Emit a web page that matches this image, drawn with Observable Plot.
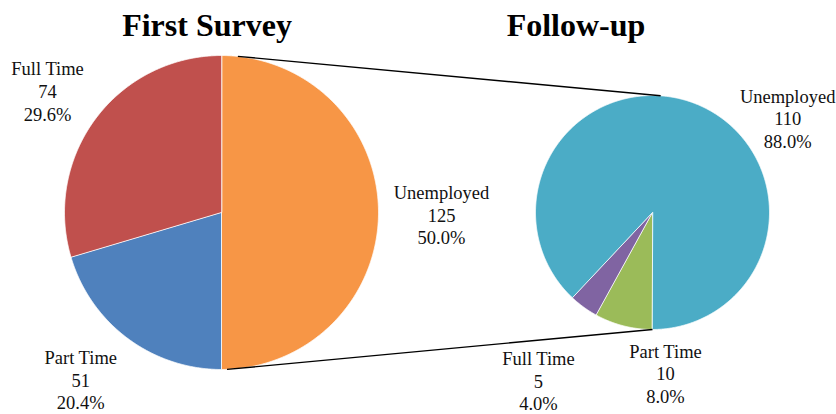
<!DOCTYPE html>
<html><head><meta charset="utf-8">
<script src="https://cdn.jsdelivr.net/npm/d3@7"></script>
<script src="https://cdn.jsdelivr.net/npm/@observablehq/plot@0.6"></script>
<style>body{margin:0;background:#fff}</style>
</head><body><div id="chart"></div>
<script>
// ---- data ----
const categories = ["Full Time", "Part Time", "Unemployed"];
const firstSurvey = [74, 51, 125];
const followUp = [5, 10, 110];
const surveyTitles = ["First Survey", "Follow-up"];
const firstColors = ["#C0504D", "#4F81BD", "#F79646"];
const followColors = ["#8064A2", "#9BBB59", "#4BACC6"];

// ---- layout ----
const W = 836, H = 414;
const FONT = "'Liberation Serif', 'Times New Roman', serif";
const pies = [
  {title: surveyTitles[0], values: firstSurvey, colors: firstColors,
   cx: 221, cy: 212, r: 157, start: 0, order: [2, 1, 0], titleX: 206.5,
   nudge: [[0, 8], [-11, -7], [3, 2]]},
  {title: surveyTitles[1], values: followUp, colors: followColors,
   cx: 652, cy: 212, r: 117, start: Math.PI, order: [1, 0, 2], titleX: 575.5,
   nudge: [[-10, 25], [57, -11], [70, 70]]}
];
const labelOffset = 60;

const pt = (p, a, rr) => [p.cx + rr * Math.sin(a), p.cy - rr * Math.cos(a)];

const slicePts = [];
const labels = [];
const titles = [];
pies.forEach((p, pi) => {
  const total = d3.sum(p.values);
  const ordered = p.order.map(i => ({i, v: p.values[i]}));
  const arcs = d3.pie().sort(null).value(d => d.v)
    .startAngle(p.start).endAngle(p.start + 2 * Math.PI)(ordered);
  arcs.forEach(a => {
    const i = a.data.i;
    const id = pi + "-" + i;
    const col = p.colors[i];
    slicePts.push({id, x: p.cx, y: p.cy, c: col});
    const n = Math.max(2, Math.ceil((a.endAngle - a.startAngle) / 0.005));
    for (let k = 0; k <= n; k++) {
      const ang = a.startAngle + (a.endAngle - a.startAngle) * k / n;
      const [x, y] = pt(p, ang, p.r);
      slicePts.push({id, x, y, c: col});
    }
    const mid = (a.startAngle + a.endAngle) / 2;
    const [lx, ly] = pt(p, mid, p.r + labelOffset);
    labels.push({
      x: lx + p.nudge[i][0], y: ly + p.nudge[i][1],
      text: categories[i] + "\n" + a.data.v + "\n" + (a.data.v / total * 100).toFixed(1) + "%"
    });
  });
  titles.push({x: p.titleX, text: p.title});
});

// connector lines between the pies
const L = pies[0], R = pies[1];
const deg = d => d * Math.PI / 180;
const links = [
  {a: pt(L, deg(6), L.r), b: pt(R, deg(4), R.r)},
  {a: pt(L, deg(178), L.r), b: pt(R, deg(180), R.r)}
];

const chart = Plot.plot({
  width: W, height: H,
  margin: 0,
  x: {domain: [0, W], range: [0, W], axis: null},
  y: {domain: [0, H], range: [0, H], axis: null},
  color: {type: "identity"},
  marks: [
    Plot.line(slicePts, {x: "x", y: "y", z: "id", fill: "c", stroke: "white",
      strokeWidth: 0.8, curve: "linear-closed"}),
    Plot.link(links, {x1: d => d.a[0], y1: d => d.a[1], x2: d => d.b[0], y2: d => d.b[1],
      stroke: "black", strokeWidth: 1.4}),
    Plot.text(labels, {x: "x", y: "y", text: "text", fontSize: 18.5, lineHeight: 1.22,
      fontFamily: FONT, fill: "#111", textAnchor: "middle"}),
    Plot.text(titles, {x: "x", y: () => 25, text: "text", fontSize: 32, fontWeight: "bold",
      fontFamily: FONT, fill: "black", textAnchor: "middle"})
  ]
});
document.getElementById("chart").appendChild(chart);
</script>
</body></html>
